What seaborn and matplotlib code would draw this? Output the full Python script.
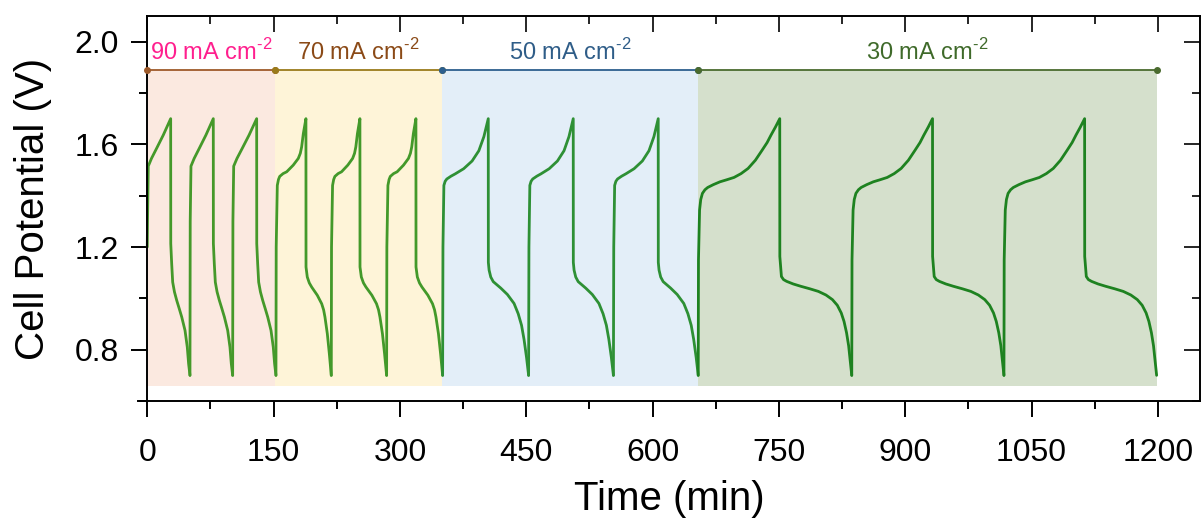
import numpy as np
import pandas as pd
import matplotlib
matplotlib.use("Agg")
import matplotlib.pyplot as plt
import seaborn as sns
from matplotlib.ticker import MultipleLocator

# ---- current-density steps ------------------------------------------------
step_labels = ["90 mA cm$^{\\text{-}2}$", "70 mA cm$^{\\text{-}2}$",
               "50 mA cm$^{\\text{-}2}$", "30 mA cm$^{\\text{-}2}$"]
step_bounds = [0.0, 151.6, 349.5, 654.2, 1198.5]          # min
step_label_colors = ["#FF1F8E", "#8B4A17", "#2F5D88", "#3F6A2A"]
step_line_colors = ["#9E5A2A", "#9A7B1A", "#2D5F8E", "#4A6B2E"]
step_fill_colors = ["#FBE9E0", "#FEF4D8", "#E3EEF8", "#D5E0CC"]
step_trace_colors = ["#45992A", "#43992A", "#2E9035", "#1E8220"]
bar_level = 1.89       # V
fill_floor = 0.66      # V

# ---- cycle turning points (min): charge start, end of charge, end of discharge
cycle_start_90 = [0.0, 50.7, 101.4]
cycle_peak_90 = [27.8, 78.4, 129.9]
cycle_end_90 = [50.7, 101.4, 152.8]

cycle_start_70 = [152.8, 218.5, 284.2]
cycle_peak_70 = [188.4, 252.5, 319.0]
cycle_end_70 = [218.5, 284.2, 350.7]

cycle_start_50 = [350.7, 452.8, 553.5]
cycle_peak_50 = [404.9, 505.8, 606.7]
cycle_end_50 = [452.8, 553.5, 654.2]

cycle_start_30 = [654.2, 836.5, 1017.2]
cycle_peak_30 = [751.0, 932.4, 1113.0]
cycle_end_30 = [836.5, 1017.2, 1198.5]

first_open_circuit = 1.20   # V at t = 0

# ---- charge / discharge profiles (minutes after turning point, V) ---------
chg_t_90 = [0, 0.3, 1.2, 5.0, 11.2, 19.0, 27.8]
chg_v_90 = [0.70, 1.30, 1.515, 1.545, 1.585, 1.636, 1.70]
dis_t_90 = [0, 0.1, 1.2, 2.4, 4.5, 7.2, 10.2, 13.2, 17.1, 19.8, 21.4, 23.0]
dis_v_90 = [1.70, 1.213, 1.135, 1.063, 1.025, 0.992, 0.96, 0.927, 0.875, 0.81, 0.745, 0.70]

chg_t_70 = [0, 0.3, 1.6, 3.0, 4.5, 8.5, 12.8, 20.6, 26.6, 29.0, 30.6, 32.6, 35.7]
chg_v_70 = [0.70, 1.20, 1.44, 1.463, 1.475, 1.486, 1.493, 1.519, 1.545, 1.565,
            1.59, 1.642, 1.70]
dis_t_70 = [0, 0.1, 1.6, 4.0, 6.8, 13.5, 18.7, 21.0, 22.6, 25.4, 27.8, 30.1]
dis_v_70 = [1.70, 1.122, 1.083, 1.060, 1.044, 1.012, 0.979, 0.955, 0.927, 0.862,
            0.784, 0.70]

chg_t_50 = [0, 0.4, 1.5, 3.0, 5, 10, 15, 25, 35, 43, 49, 54.2]
chg_v_50 = [0.70, 1.20, 1.44, 1.456, 1.465, 1.476, 1.485, 1.505, 1.535, 1.575,
            1.63, 1.70]
dis_t_50 = [0, 0.1, 1.0, 3.0, 6, 15, 23, 31, 36, 40, 43, 46, 48.5]
dis_v_50 = [1.70, 1.14, 1.11, 1.083, 1.065, 1.04, 1.015, 0.98, 0.94, 0.895, 0.84,
            0.77, 0.70]

chg_t_30 = [0, 0.3, 1.6, 3.0, 5, 8, 11.3, 18, 25.9, 34, 42.6, 51, 59.3, 68, 76,
            82, 86.6, 92, 97]
chg_v_30 = [0.70, 1.15, 1.344, 1.385, 1.409, 1.423, 1.432, 1.443, 1.454, 1.462,
            1.471, 1.486, 1.506, 1.538, 1.577, 1.607, 1.636, 1.668, 1.70]
dis_t_30 = [0, 0.1, 2, 4.5, 8.3, 16, 25, 36, 46, 55, 62.7, 68.5, 73.2, 76.5, 79.5,
            82, 83.7, 85.7]
dis_v_30 = [1.70, 1.163, 1.085, 1.073, 1.066, 1.056, 1.047, 1.037, 1.027, 1.013,
            0.995, 0.973, 0.943, 0.91, 0.866, 0.815, 0.762, 0.70]

steps = [
    (cycle_start_90, cycle_peak_90, cycle_end_90, chg_t_90, chg_v_90, dis_t_90, dis_v_90),
    (cycle_start_70, cycle_peak_70, cycle_end_70, chg_t_70, chg_v_70, dis_t_70, dis_v_70),
    (cycle_start_50, cycle_peak_50, cycle_end_50, chg_t_50, chg_v_50, dis_t_50, dis_v_50),
    (cycle_start_30, cycle_peak_30, cycle_end_30, chg_t_30, chg_v_30, dis_t_30, dis_v_30),
]


def build_trace(step_idx):
    starts, peaks, ends, ct, cv, dt, dv = steps[step_idx]
    rows = []
    for k, (s, p, e) in enumerate(zip(starts, peaks, ends)):
        ct_a = np.asarray(ct, float)
        dt_a = np.asarray(dt, float)
        t_c = s + ct_a * (p - s) / ct_a[-1]
        v_c = list(cv)
        if step_idx == 0 and k == 0:
            v_c[0] = first_open_circuit
        t_d = p + dt_a * (e - p) / dt_a[-1]
        for t, v in zip(t_c, v_c):
            rows.append((t, v, k))
        for t, v in zip(t_d[1:], dv[1:]):
            rows.append((t, v, k))
    return pd.DataFrame(rows, columns=["time", "potential", "cycle"])


sns.set_theme(style="ticks")
plt.rcParams["font.family"] = ["Liberation Sans", "DejaVu Sans"]
plt.rcParams["mathtext.fontset"] = "custom"
plt.rcParams["mathtext.rm"] = "Liberation Sans"
plt.rcParams["axes.unicode_minus"] = False
plt.rcParams["text.color"] = "black"
plt.rcParams["axes.labelcolor"] = "black"

W, H = 1203, 518
fig = plt.figure(figsize=(W / 100, H / 100), dpi=100)
ax = fig.add_axes([138 / W, 1 - 401 / H, (1200 - 138) / W, (401 - 16) / H])

# shaded current-density windows with marker bars on top
for i in range(4):
    x0, x1 = step_bounds[i], step_bounds[i + 1]
    ax.fill_between([x0, x1], fill_floor, bar_level, color=step_fill_colors[i],
                    lw=0, zorder=0)
for i in range(4):
    x0, x1 = step_bounds[i], step_bounds[i + 1]
    ax.plot([x0, x1], [bar_level, bar_level], color=step_line_colors[i], lw=1.3,
            marker="o", ms=4, zorder=3)
    ax.text((x0 + x1) / 2, bar_level + 0.018, step_labels[i], color=step_label_colors[i],
            fontsize=17, ha="center", va="bottom", zorder=4)

# galvanostatic charge/discharge trace
for i in range(4):
    df = build_trace(i)
    sns.lineplot(data=df, x="time", y="potential", units="cycle", estimator=None,
                 sort=False, color=step_trace_colors[i], lw=2.0, ax=ax, zorder=2)

ax.set_xlim(-11, 1250)
ax.set_ylim(0.6, 2.1)
ax.xaxis.set_major_locator(MultipleLocator(150))
ax.xaxis.set_minor_locator(MultipleLocator(75))
ax.yaxis.set_major_locator(MultipleLocator(0.4))
ax.yaxis.set_minor_locator(MultipleLocator(0.2))
ax.set_yticks([0.8, 1.2, 1.6, 2.0])
ax.set_yticklabels(["0.8", "1.2", "1.6", "2.0"])

ax.spines["left"].set_position(("data", 0))
ax.spines["top"].set_bounds(0, 1250)
for sp in ax.spines.values():
    sp.set_linewidth(1.4)
    sp.set_color("black")

ax.tick_params(axis="both", which="major", direction="out", length=11.5, width=1.4,
               labelsize=23, color="black", labelcolor="black")
ax.tick_params(axis="both", which="minor", direction="out", length=5.8, width=1.4,
               color="black")
ax.tick_params(axis="x", which="major", pad=15)
ax.tick_params(axis="y", which="major", pad=9)

# inward ticks on the top and right frame
top = ax.secondary_xaxis("top")
top.xaxis.set_major_locator(MultipleLocator(150))
top.xaxis.set_minor_locator(MultipleLocator(75))
top.tick_params(which="major", direction="in", length=11.5, width=1.4, labeltop=False)
top.tick_params(which="minor", direction="in", length=5.8, width=1.4)
top.spines["top"].set_visible(False)
right = ax.secondary_yaxis("right")
right.yaxis.set_major_locator(MultipleLocator(0.4))
right.yaxis.set_minor_locator(MultipleLocator(0.2))
right.set_yticks([0.8, 1.2, 1.6, 2.0])
right.tick_params(which="major", direction="in", length=11.5, width=1.4, labelright=False)
right.tick_params(which="minor", direction="in", length=5.8, width=1.4)
right.spines["right"].set_visible(False)

ax.set_xlabel("Time (min)", fontsize=29, labelpad=9, color="black")
ax.set_ylabel("Cell Potential (V)", fontsize=29, labelpad=16, color="black")

fig.savefig("out.png", dpi=100)
